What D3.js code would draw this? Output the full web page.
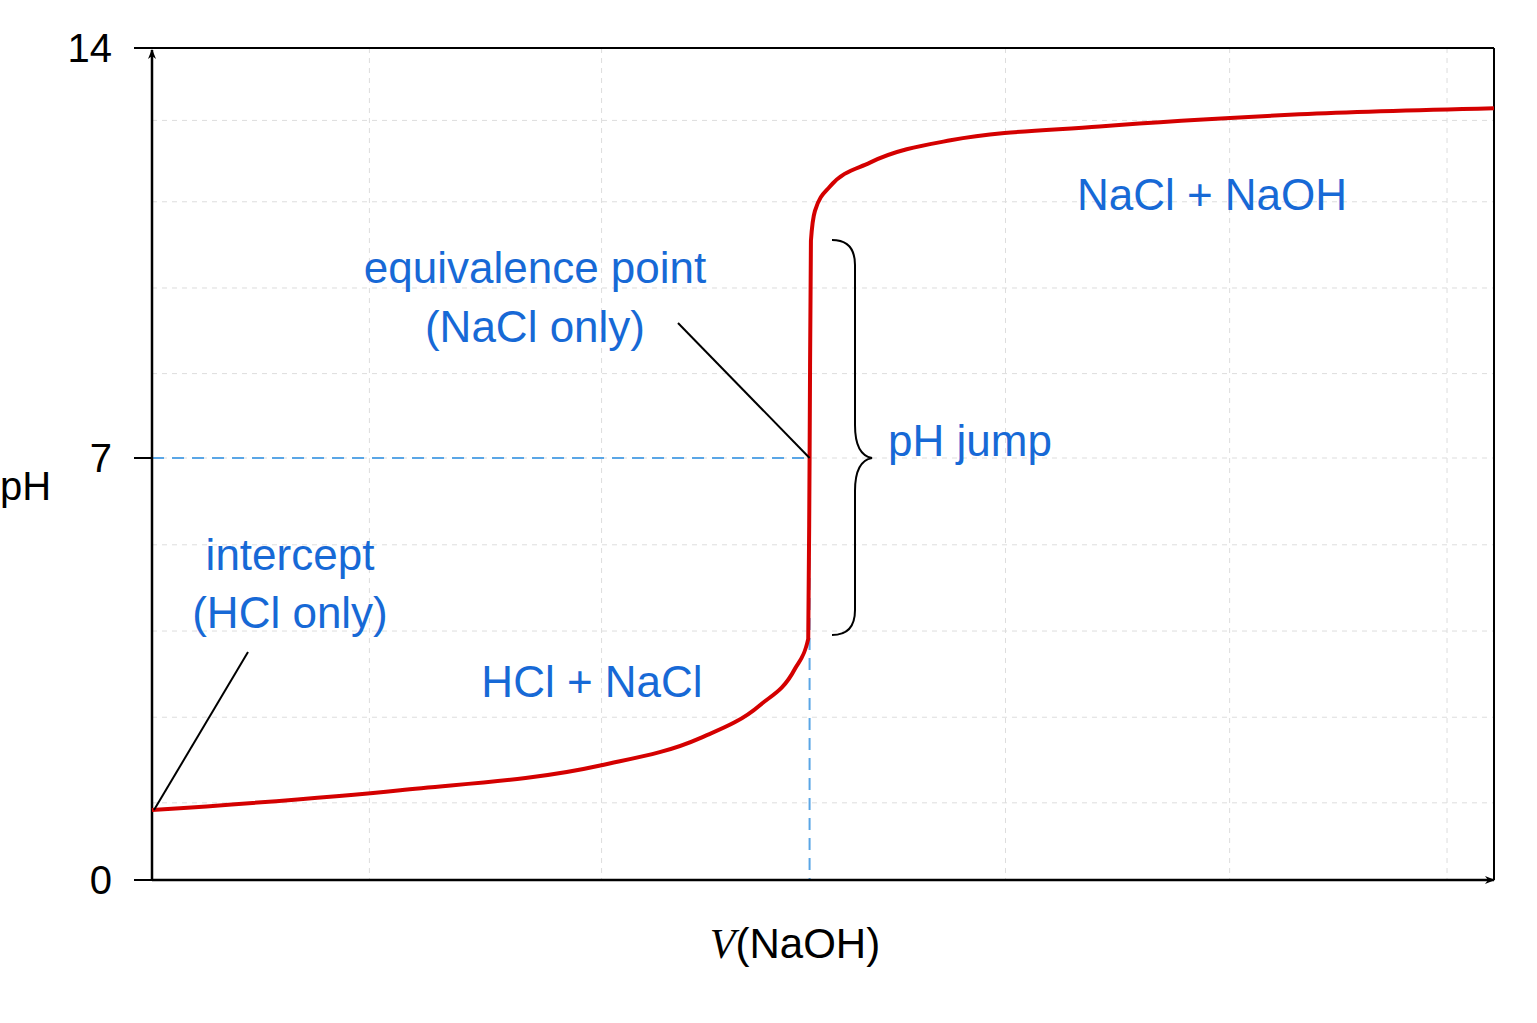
<!DOCTYPE html>
<html><head><meta charset="utf-8">
<script src="https://cdn.jsdelivr.net/npm/d3@7"></script>
<style>body{margin:0;background:#fff}text{font-family:Arial,"Liberation Sans",sans-serif}</style>
</head><body>
<script>
// curve: V (0..100), pH
var volume = [0, 18.5, 33.4, 40.8, 45.3, 47.9, 48.9, 49.0, 49.1, 49.4, 50.5, 53.5, 59.5, 70.6, 85.5, 100];
var pH     = [1.16, 1.49, 1.9, 2.35, 2.9, 3.5, 4.0, 7.0, 10.6, 11.1, 11.5, 11.9, 12.27, 12.5, 12.7, 12.8];
var yTicks = [0, 7, 14];
var gridX = [16.2, 33.5, 63.6, 80.3, 96.5];
var gridY = [1.28, 2.7, 4.13, 5.56, 7, 8.4, 9.82, 11.25, 12.6];
var equivV = 49.0;

var svg = d3.select("body").append("svg").attr("width", 1537).attr("height", 1023);
var x = d3.scaleLinear().domain([0, 100]).range([152, 1494]);
var y = d3.scaleLinear().domain([0, 7]).range([880, 458]);
var blue = "#1769d6";

// grid
svg.selectAll("line.gx").data(gridX).enter().append("line")
  .attr("x1", d => x(d)).attr("x2", d => x(d)).attr("y1", 48).attr("y2", 880)
  .attr("stroke", "#ddd").attr("stroke-dasharray", "5,5");
svg.selectAll("line.gy").data(gridY).enter().append("line")
  .attr("x1", 152).attr("x2", 1494).attr("y1", d => y(d)).attr("y2", d => y(d))
  .attr("stroke", "#ddd").attr("stroke-dasharray", "5,5");

// frame
svg.append("line").attr("x1", 152).attr("x2", 1494).attr("y1", 48).attr("y2", 48).attr("stroke", "#000").attr("stroke-width", 2);
svg.append("line").attr("x1", 1494).attr("x2", 1494).attr("y1", 48).attr("y2", 880).attr("stroke", "#000").attr("stroke-width", 2);

// dashed guides
svg.append("line").attr("x1", 152).attr("x2", x(equivV)).attr("y1", y(7)).attr("y2", y(7))
  .attr("stroke", "#5aa6e6").attr("stroke-width", 2).attr("stroke-dasharray", "12,8");
svg.append("line").attr("x1", x(equivV)).attr("x2", x(equivV)).attr("y1", y(7)).attr("y2", 880)
  .attr("stroke", "#5aa6e6").attr("stroke-width", 2).attr("stroke-dasharray", "12,8");

// axes with arrows
var defs = svg.append("defs");
defs.append("marker").attr("id", "arr").attr("viewBox", "0 0 10 10").attr("refX", 9).attr("refY", 5)
  .attr("markerWidth", 10).attr("markerHeight", 10).attr("markerUnits", "userSpaceOnUse").attr("orient", "auto")
  .append("path").attr("d", "M0,1 L10,5 L0,9 L3,5 Z").attr("fill", "#000");
svg.append("line").attr("x1", 152).attr("x2", 152).attr("y1", 880).attr("y2", 50).attr("stroke", "#000").attr("stroke-width", 2.5)
  .attr("marker-end", "url(#arr)");
svg.append("line").attr("x1", 152).attr("x2", 1494).attr("y1", 880).attr("y2", 880).attr("stroke", "#000").attr("stroke-width", 2.5)
  .attr("marker-end", "url(#arr)");
svg.selectAll("line.tk").data(yTicks).enter().append("line")
  .attr("x1", 134).attr("x2", 152).attr("y1", d => d === 14 ? 48 : y(d)).attr("y2", d => d === 14 ? 48 : y(d))
  .attr("stroke", "#000").attr("stroke-width", 2);
svg.selectAll("text.tk").data(yTicks).enter().append("text")
  .attr("x", 112).attr("y", d => (d === 14 ? 48 : y(d)) + 14).attr("text-anchor", "end")
  .attr("font-size", 40).text(d => d);
svg.append("text").attr("x", 0).attr("y", 500).attr("font-size", 40).text("pH");
var xl = svg.append("text").attr("x", 795).attr("y", 958).attr("text-anchor", "middle").attr("font-size", 42);
xl.append("tspan").attr("font-family", "Liberation Serif, serif").attr("font-style", "italic").text("V");
xl.append("tspan").text("(NaOH)");

// curve
var pts = volume.map((v, i) => [v, pH[i]]);
svg.append("path").datum(pts)
  .attr("d", d3.line().x(d => x(d[0])).y(d => y(d[1])).curve(d3.curveMonotoneX))
  .attr("fill", "none").attr("stroke", "#d40000").attr("stroke-width", 4);

// brace
svg.append("path").attr("d", "M832,240 Q855,240 855,265 L855,425 Q855,455 872,458 Q855,461 855,491 L855,610 Q855,635 832,635")
  .attr("fill", "none").attr("stroke", "#000").attr("stroke-width", 2);

// pointer lines
svg.append("line").attr("x1", 678).attr("y1", 323).attr("x2", x(equivV)).attr("y2", y(7)).attr("stroke", "#000").attr("stroke-width", 2);
svg.append("line").attr("x1", 248).attr("y1", 652).attr("x2", 154).attr("y2", y(pH[0])).attr("stroke", "#000").attr("stroke-width", 2);

// labels
var labels = [
  ["equivalence point", 535, 283], ["(NaCl only)", 535, 342], ["pH jump", 970, 456],
  ["intercept", 290, 570], ["(HCl only)", 290, 628], ["HCl + NaCl", 592, 697], ["NaCl + NaOH", 1212, 210]
];
svg.selectAll("text.lb").data(labels).enter().append("text")
  .attr("x", d => d[1]).attr("y", d => d[2]).attr("text-anchor", "middle")
  .attr("font-size", 44).attr("fill", blue).text(d => d[0]);
</script>
</body></html>
